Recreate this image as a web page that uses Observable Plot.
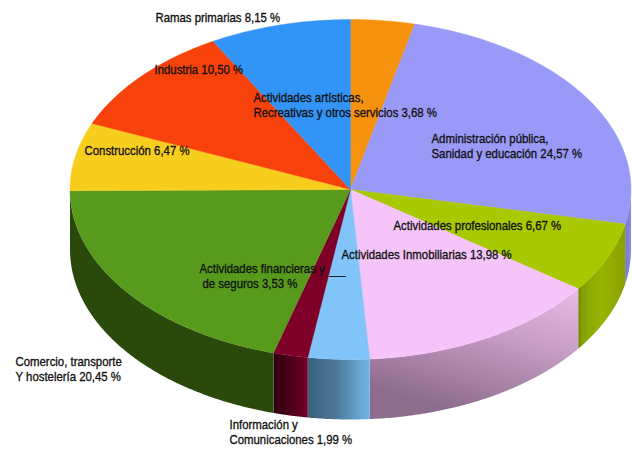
<!DOCTYPE html>
<html>
<head>
<meta charset="utf-8">
<script src="https://cdn.jsdelivr.net/npm/d3@7"></script>
<script src="https://cdn.jsdelivr.net/npm/@observablehq/plot@0.6"></script>
<style>
html,body{margin:0;padding:0;background:#fff;overflow:hidden}
svg{display:block}
</style>
</head>
<body>
<div id="chart"></div>
<script>
const sectors = ["Actividades artísticas", "Administración pública", "Actividades profesionales", "Actividades Inmobiliarias", "Actividades financieras", "Información y Comunicaciones", "Comercio", "Construcción", "Industria", "Ramas primarias"];
const shares = [3.68, 24.57, 6.67, 13.98, 3.53, 1.99, 20.45, 6.47, 10.50, 8.15];
const topColors = ["#F7920F", "#9999F7", "#A8C800", "#F5C4F8", "#80C4FA", "#7E0029", "#579A1C", "#F8CE1E", "#F8420C", "#3394F7"];

const labelLines = [
  ["Ramas primarias 8,15 %"],
  ["Industria 10,50 %"],
  ["Actividades artísticas,", "Recreativas y otros servicios 3,68 %"],
  ["Administración pública,", "Sanidad y educación 24,57 %"],
  ["Construcción 6,47 %"],
  ["Actividades profesionales 6,67 %"],
  ["Actividades Inmobiliarias 13,98 %"],
  ["Actividades financieras y"],
  ["de seguros 3,53 %"],
  ["Comercio, transporte", "Y hostelería 20,45 %"],
  ["Información y", "Comunicaciones 1,99 %"]
];
const labelLeft = [155, 154, 253, 431, 84, 393, 341, 199, 202, 15, 229];
const labelBase = [21, 73, 101, 142, 154, 229, 258, 272, 287, 365, 428];

const W = 632, H = 449, CX = 350, CY = 189, RX = 280.5, RY = 170, DEPTH = 60;
const ux = (p) => (p - CX) / RX;
const uy = (p) => (CY - p) / RY;

const total = d3.sum(shares);
const cum = d3.cumsum(shares);
const slices = shares.map((v, i) => ({
  name: sectors[i], color: topColors[i],
  a0: ((i ? cum[i - 1] : 0) / total) * 2 * Math.PI,
  a1: (cum[i] / total) * 2 * Math.PI
}));

function arcPts(a0, a1) {
  const n = Math.max(2, Math.ceil((a1 - a0) / (Math.PI / 360)));
  return d3.range(n + 1).map((k) => {
    const a = a0 + (a1 - a0) * k / n;
    return {x: Math.sin(a), y: Math.cos(a)};
  });
}
const wedge = (s) => [{x: 0, y: 0}, ...arcPts(s.a0, s.a1), {x: 0, y: 0}];
const drop = DEPTH / RY;
function wall(s) {
  const a0 = Math.max(s.a0, Math.PI / 2), a1 = Math.min(s.a1, 3 * Math.PI / 2);
  if (a1 <= a0) return null;
  const top = arcPts(a0, a1);
  const bot = top.map((p) => ({x: p.x, y: p.y - drop})).reverse();
  return [...top, ...bot, top[0]];
}

const gradients = [
  ["g1", [0, 0, 1, 0], [[0, "#7878C8"], [1, "#8A8AE0"]]],
  ["g2", [0, 0, 1, 0], [[0, "#6E8000"], [0.08, "#86A000"], [0.5, "#98B400"], [1, "#8AA000"]]],
  ["g3", [1, 0, 0.55, 1], [[0, "#E6BCE6"], [0.45, "#C49CC4"], [1, "#8E6C8E"]]],
  ["g4", [0, 0, 1, 0], [[0, "#3C5E78"], [0.5, "#4F7B9E"], [0.85, "#6AA6D4"], [1, "#72B4E4"]]],
  ["g5", [0, 0, 1, 0], [[0, "#2E0010"], [0.55, "#500018"], [1, "#74002A"]]],
  ["g6", [0, 0, 1, 0], [[0, "#2A4A0B"], [1, "#2A4A0B"]]]
];
const wallFill = {1: "url(#g1)", 2: "url(#g2)", 3: "url(#g3)", 4: "url(#g4)", 5: "url(#g5)", 6: "url(#g6)"};

function defsMark() {
  const svg = d3.create("svg:g");
  const defs = svg.append("defs");
  for (const [id, [x1, y1, x2, y2], stops] of gradients) {
    const g = defs.append("linearGradient").attr("id", id)
      .attr("x1", x1).attr("y1", y1).attr("x2", x2).attr("y2", y2);
    for (const [o, c] of stops) g.append("stop").attr("offset", o).attr("stop-color", c);
  }
  return svg.node();
}

const marks = [defsMark];
slices.forEach((s, i) => {
  const w = wall(s);
  if (w && wallFill[i]) marks.push(Plot.line(w, {x: "x", y: "y", fill: wallFill[i], stroke: "none", curve: "linear"}));
});
slices.forEach((s) => {
  marks.push(Plot.line(wedge(s), {x: "x", y: "y", fill: s.color, stroke: s.color, strokeWidth: 0.4, curve: "linear"}));
});

const leader = [{x: ux(329), y: uy(276)}, {x: ux(345), y: uy(276)}];
marks.push(Plot.line(leader, {x: "x", y: "y", stroke: "#222", strokeWidth: 1}));

labelLines.forEach((lines, i) => {
  lines.forEach((t, j) => {
    marks.push(Plot.text([t], {
      x: () => ux(labelLeft[i]),
      y: () => uy(labelBase[i] + j * 15),
      text: (d) => d,
      textAnchor: "start",
      lineAnchor: "bottom",
      fontFamily: "'Liberation Sans',sans-serif",
      fontSize: 13.5,
      fill: "#111",
      stroke: "#111",
      strokeWidth: 0.35
    }));
  });
});

const chart = Plot.plot({
  width: W, height: H,
  margin: 0,
  x: {domain: [ux(0), ux(W)], range: [0, W], axis: null},
  y: {domain: [uy(H), uy(0)], range: [H, 0], axis: null},
  style: {background: "#fff"},
  marks
});
document.getElementById("chart").appendChild(chart);

// condense the labels: the reference uses a narrow face
const squeeze = 0.843;
d3.select(chart).selectAll("text").each(function () {
  const len = this.getComputedTextLength();
  d3.select(this).attr("textLength", len * squeeze).attr("lengthAdjust", "spacingAndGlyphs");
});
</script>
</body>
</html>
